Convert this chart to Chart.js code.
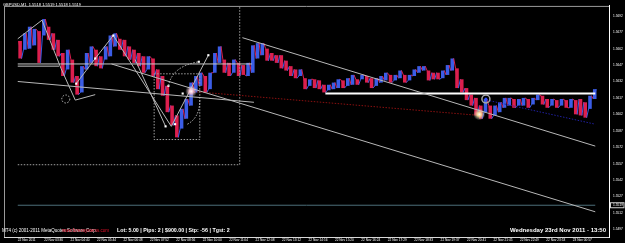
<!DOCTYPE html>
<html>
<head>
<meta charset="utf-8">
<script src="https://cdn.jsdelivr.net/npm/chart.js@4.4.0/dist/chart.umd.min.js"></script>
<style>
  html, body { margin: 0; padding: 0; background: #000; }
  canvas { display: block; }
</style>
</head>
<body>
<canvas id="gbpusd" width="625" height="243"></canvas>
<script>
// time axis, one label every 64 one-minute bars
const timeLabels = ["22 Nov 2011", "22 Nov 03:36", "22 Nov 04:40", "22 Nov 05:44", "22 Nov 06:48",
  "22 Nov 07:52", "22 Nov 08:56", "22 Nov 10:00", "22 Nov 11:04", "22 Nov 12:08", "22 Nov 13:12",
  "22 Nov 14:16", "22 Nov 15:20", "22 Nov 16:24", "22 Nov 17:29", "22 Nov 18:33", "22 Nov 19:37",
  "22 Nov 20:41", "22 Nov 21:45", "22 Nov 22:49", "22 Nov 23:53", "23 Nov 00:57"];
const timeTicks = timeLabels.map((l, i) => i * 64);

// price axis
const priceTicks = [1.5692, 1.5677, 1.5662, 1.5647, 1.5632, 1.5617, 1.5602,
  1.5587, 1.5572, 1.5557, 1.5542, 1.5527, 1.5512, 1.5497];
const bidPrice = 1.5519;

// price path, grouped in 11.5 minute slots (high / low of each slot)
const slotMinutes = 11.5;
const highs = [1.5669, 1.5676, 1.5682, 1.5680, 1.5678, 1.5689, 1.5682, 1.5676, 1.5670, 1.5658,
  1.5661, 1.5652, 1.5637, 1.5646, 1.5658, 1.5664, 1.5661, 1.5655, 1.5664, 1.5674,
  1.5676, 1.5671, 1.5670, 1.5664, 1.5661, 1.5658, 1.5655, 1.5655, 1.5653, 1.5643,
  1.5637, 1.5628, 1.5610, 1.5601, 1.5607, 1.5616, 1.5631, 1.5637, 1.5640, 1.5637,
  1.5640, 1.5658, 1.5664, 1.5652, 1.5649, 1.5652, 1.5649, 1.5647, 1.5649, 1.5665,
  1.5667, 1.5667, 1.5662, 1.5658, 1.5656, 1.5656, 1.5651, 1.5646, 1.5643, 1.5643,
  1.5635, 1.5634, 1.5634, 1.5633, 1.5629, 1.5629, 1.5631, 1.5634, 1.5633, 1.5635,
  1.5638, 1.5634, 1.5638, 1.5637, 1.5635, 1.5635, 1.5637, 1.5640, 1.5638, 1.5638,
  1.5642, 1.5638, 1.5638, 1.5643, 1.5646, 1.5646, 1.5642, 1.5640, 1.5640, 1.5642,
  1.5647, 1.5653, 1.5644, 1.5634, 1.5626, 1.5620, 1.5617, 1.5610, 1.5616, 1.5610,
  1.5610, 1.5613, 1.5617, 1.5617, 1.5616, 1.5616, 1.5617, 1.5616, 1.5617, 1.5620,
  1.5619, 1.5616, 1.5616, 1.5615, 1.5616, 1.5615, 1.5616, 1.5615, 1.5616, 1.5613,
  1.5619, 1.5625];
const lows = [1.5653, 1.5661, 1.5662, 1.5665, 1.5649, 1.5674, 1.5670, 1.5661, 1.5655, 1.5637,
  1.5643, 1.5631, 1.5620, 1.5622, 1.5643, 1.5649, 1.5646, 1.5644, 1.5652, 1.5655,
  1.5664, 1.5661, 1.5655, 1.5652, 1.5649, 1.5646, 1.5640, 1.5643, 1.5637, 1.5625,
  1.5619, 1.5604, 1.5592, 1.5581, 1.5589, 1.5598, 1.5610, 1.5622, 1.5628, 1.5622,
  1.5625, 1.5640, 1.5649, 1.5640, 1.5637, 1.5640, 1.5637, 1.5638, 1.5637, 1.5640,
  1.5653, 1.5656, 1.5651, 1.5651, 1.5649, 1.5644, 1.5642, 1.5637, 1.5635, 1.5637,
  1.5625, 1.5628, 1.5626, 1.5625, 1.5622, 1.5624, 1.5625, 1.5626, 1.5626, 1.5628,
  1.5629, 1.5629, 1.5634, 1.5631, 1.5626, 1.5628, 1.5631, 1.5633, 1.5631, 1.5633,
  1.5635, 1.5631, 1.5633, 1.5637, 1.5640, 1.5642, 1.5633, 1.5634, 1.5634, 1.5635,
  1.5638, 1.5642, 1.5626, 1.5622, 1.5615, 1.5610, 1.5601, 1.5598, 1.5604, 1.5598,
  1.5601, 1.5604, 1.5608, 1.5610, 1.5608, 1.5610, 1.5610, 1.5608, 1.5611, 1.5615,
  1.5611, 1.5608, 1.5610, 1.5608, 1.5610, 1.5608, 1.5608, 1.5602, 1.5601, 1.5599,
  1.5607, 1.5616];

// drawn objects, [minute, price]
const upperRay = [[544, 1.5672], [1398.5, 1.5573]];
const lowerRay = [[227, 1.5648], [1398.5, 1.5513]];
const driftLine = [[0, 1.5632], [572, 1.5613]];
const levelLeft = [[0, 1.5648], [567, 1.5648]];
const levelLeft2 = [[0, 1.5646], [100, 1.5646]];
const resistance = [[745, 1.5621], [1398.5, 1.5621]];
const redDotted = [[420, 1.5623], [1118, 1.5601]];
const blueDotted = [[1136, 1.5615], [1398.5, 1.5593]];
const zigzagA = [[0, 1.5671], [58.7, 1.5688], [104.7, 1.5644], [139.3, 1.5615]];
const zigzagB = [[141.6, 1.5630], [187.6, 1.5653], [231.4, 1.5674], [371.8, 1.5591], [461.6, 1.5656]];
const forkLine = [[139.3, 1.5615], [187.6, 1.5620]];
const vLine = [[284.3, 1.5652], [358, 1.5591]];
const bigBox = [[0, 1.5556], [537.5, 1.5556], [537.5, 1.5701]];
const smallBox = [[330.3, 1.5639], [440.8, 1.5639], [440.8, 1.5579], [330.3, 1.5579], [330.3, 1.5639]];
const nodes = [[141.6, 1.5630], [187.6, 1.5653], [231.4, 1.5674], [461.6, 1.5656], [438.5, 1.5650],
  [364.9, 1.5628], [399.4, 1.5621], [381, 1.5593], [358, 1.5591]];
const arcLeft = [[364.9, 1.5628], [374.1, 1.5646], [438.5, 1.5650]];
const arcRight = [[440.8, 1.5615], [440.8, 1.5599], [410.9, 1.5593]];
const smallRing = [116.3, 1.5616];
const glowMarks = [[420.1, 1.5623], [1117.6, 1.5602]];
const ringMark = [1133.7, 1.5616];

const RED = '#dc1f4e', BLUE = '#3b5de6';
const pts = arr => arr.map(p => ({x: p[0], y: p[1]}));
const mids = highs.map((h, i) => (h + lows[i]) / 2);
const rising = mids.map((m, i) => i > 0 && m > mids[i - 1]);
const bars = highs.map((h, i) => ({x: (i + 0.5) * slotMinutes, y: [lows[i], h]}));
const barColors = rising.map(r => r ? BLUE : RED);
// tick path: low then high in a rising slot, high then low otherwise
const ticksPath = [];
highs.forEach((h, i) => {
  const t = (i + 0.5) * slotMinutes;
  const a = rising[i] ? lows[i] : h, b = rising[i] ? h : lows[i];
  ticksPath.push({x: t - slotMinutes * 0.3, y: a}, {x: t + slotMinutes * 0.3, y: b});
});

function line(data, color, dash, width) {
  return {type: 'line', data: pts(data), borderColor: color, borderWidth: width || 1,
    borderDash: dash || [], pointRadius: 0, fill: false, tension: 0};
}

const overlay = {
  id: 'overlay',
  afterDatasetsDraw(chart) {
    const {ctx, chartArea: a, scales: {x, y}} = chart;
    const px = p => [x.getPixelForValue(p[0]), y.getPixelForValue(p[1])];
    ctx.save();
    ctx.beginPath();
    ctx.rect(a.left, a.top, a.right - a.left, a.bottom - a.top);
    ctx.clip();
    // dotted arcs
    ctx.strokeStyle = '#bdbdbd';
    ctx.lineWidth = 1;
    ctx.setLineDash([1.5, 1.5]);
    [arcLeft, arcRight].forEach(arc => {
      const [p0, c, p2] = arc.map(px);
      ctx.beginPath();
      ctx.moveTo(p0[0], p0[1]);
      ctx.quadraticCurveTo(c[0], c[1], p2[0], p2[1]);
      ctx.stroke();
    });
    const [rx, ry] = px(smallRing);
    ctx.beginPath();
    ctx.arc(rx, ry, 4, 0, Math.PI * 2);
    ctx.stroke();
    ctx.setLineDash([]);
    // glowing markers
    glowMarks.forEach((g, i) => {
      const [gx, gy] = px(g);
      const grad = ctx.createRadialGradient(gx, gy, 0, gx, gy, 6);
      grad.addColorStop(0, '#ffffff');
      grad.addColorStop(0.35, i ? 'rgba(255,225,150,0.9)' : 'rgba(255,200,215,0.9)');
      grad.addColorStop(1, 'rgba(200,200,200,0)');
      ctx.fillStyle = grad;
      ctx.beginPath();
      ctx.arc(gx, gy, 6, 0, Math.PI * 2);
      ctx.fill();
    });
    const [mx, my] = px(ringMark);
    ctx.strokeStyle = '#a8a8a8';
    ctx.lineWidth = 1.5;
    ctx.beginPath();
    ctx.arc(mx, my, 4, 0, Math.PI * 2);
    ctx.stroke();
    ctx.fillStyle = '#3050ff';
    ctx.beginPath();
    ctx.arc(mx, my, 1.5, 0, Math.PI * 2);
    ctx.fill();
    ctx.restore();

    // frame, top and left
    ctx.save();
    ctx.strokeStyle = '#9a9a9a';
    ctx.lineWidth = 1;
    ctx.beginPath();
    ctx.moveTo(a.left, a.top + 0.5);
    ctx.lineTo(a.right, a.top + 0.5);
    ctx.moveTo(a.left + 0.5, a.top);
    ctx.lineTo(a.left + 0.5, a.bottom);
    ctx.stroke();

    // bid price label on the axis
    const by = y.getPixelForValue(bidPrice);
    ctx.fillStyle = '#000';
    ctx.fillRect(a.right + 1, by - 3, 14, 6);
    ctx.strokeStyle = '#d0d0d0';
    ctx.strokeRect(a.right + 1.5, by - 2.5, 13.5, 5);
    ctx.fillStyle = '#fff';
    ctx.font = '3.3px "Liberation Sans"';
    ctx.textBaseline = 'middle';
    ctx.fillText(bidPrice.toFixed(4), a.right + 4, by);

    // texts
    ctx.font = '4px "Liberation Sans"';
    ctx.fillText('GBPUSD,M1  1.5518 1.5519 1.5518 1.5519', 3, 5);
    ctx.font = '4.5px "Liberation Sans"';
    ctx.fillText('MT4 (c) 2001-2011 MetaQuotes Software Corp.', 2, 231);
    ctx.fillStyle = '#e8102a';
    ctx.fillText('www.forexsystems.com', 62, 231);
    ctx.fillStyle = '#fff';
    ctx.font = 'bold 5.3px "Liberation Sans"';
    ctx.fillText('Lot: 5.00 | Pips: 2 | $900.00 | Stp: -56 | Tgst: 2', 117, 231);
    ctx.font = 'bold 6px "Liberation Sans"';
    ctx.textAlign = 'right';
    ctx.fillText('Wednesday 23rd Nov 2011 - 13:50', 606, 230);
    ctx.restore();
  }
};

const chart = new Chart(document.getElementById('gbpusd'), {
  type: 'bar',
  data: {
    datasets: [
      {type: 'scatter', data: pts(nodes), pointStyle: 'rect', pointRadius: 1.5,
        backgroundColor: '#ffffff', borderWidth: 0},
      line(zigzagA, '#b8b8b8'),
      line(zigzagB, '#b8b8b8'),
      line(forkLine, '#b8b8b8'),
      line(vLine, '#b8b8b8'),
      line(upperRay, '#b8b8b8'),
      line(lowerRay, '#b8b8b8'),
      line(driftLine, '#b8b8b8'),
      line(levelLeft, '#c8c8c8'),
      line(levelLeft2, '#c8c8c8'),
      line(resistance, '#ffffff', [], 2),
      line(redDotted, '#8a1010', [1.5, 1.5]),
      line(blueDotted, '#2020a0', [1.5, 1.5]),
      line(bigBox, '#a0a0a0', [1.5, 1.5]),
      line(smallBox, '#a0a0a0', [1.5, 1.5]),
      line([[0, bidPrice], [1398.5, bidPrice]], '#4d6f7a'),
      {type: 'line', data: ticksPath, borderWidth: 1, pointRadius: 0, tension: 0,
        segment: {borderColor: c => c.p1.parsed.y > c.p0.parsed.y ? BLUE : RED}},
      {type: 'bar', data: bars, backgroundColor: barColors, borderWidth: 0,
        barPercentage: 0.75, categoryPercentage: 1}
    ]
  },
  options: {
    responsive: false,
    animation: false,
    devicePixelRatio: 1,
    layout: {padding: {top: 2, left: 1.5, right: 0, bottom: 0}},
    plugins: {legend: {display: false}, tooltip: {enabled: false}},
    scales: {
      x: {
        type: 'linear', position: 'bottom', min: 0, max: 1398.5,
        afterBuildTicks: s => { s.ticks = timeTicks.map(v => ({value: v})); },
        afterFit: s => { s.height = 6; },
        ticks: {
          autoSkip: false, maxRotation: 0, align: 'start', padding: 1, color: '#ffffff',
          font: {size: 3.2, family: 'Liberation Sans'},
          callback: (v, i) => timeLabels[i]
        },
        grid: {display: false, drawTicks: false},
        border: {display: true, color: '#d8d8d8', width: 1}
      },
      y: {
        position: 'right', min: 1.5490, max: 1.5701,
        afterBuildTicks: s => { s.ticks = priceTicks.map(v => ({value: v})); },
        afterFit: s => { s.width = 16; },
        ticks: {
          padding: 4, color: '#ffffff', font: {size: 3.2, family: 'Liberation Sans'},
          callback: v => v.toFixed(4)
        },
        grid: {display: false, drawTicks: false},
        border: {display: true, color: '#ffffff', width: 1}
      }
    }
  },
  plugins: [overlay]
});
</script>
</body>
</html>
